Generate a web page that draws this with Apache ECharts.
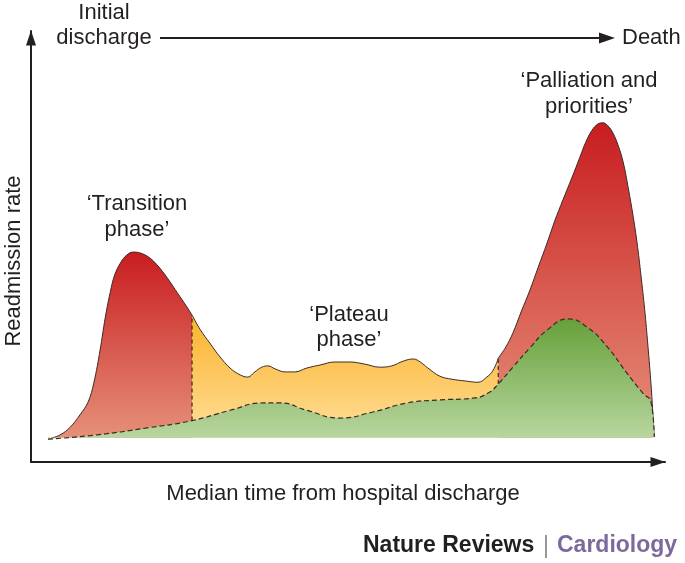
<!DOCTYPE html>
<html>
<head>
<meta charset="utf-8">
<script src="https://cdn.jsdelivr.net/npm/echarts@6/dist/echarts.min.js"></script>
<style>
html,body{margin:0;padding:0;background:#fff;}
#chart{width:685px;height:563px;}
</style>
</head>
<body>
<div id="chart"></div>
<script>
// Time axis: 0 = initial discharge, 100 = death (arbitrary units); rate in arbitrary units 0-100
const transitionPhase = [
  [2.7, 5.3], [4.6, 6.3], [6.2, 8.1], [7.7, 10.9], [9.0, 13.9], [9.9, 18.3], [10.9, 26.0],
  [11.7, 33.4], [12.5, 39.4], [13.2, 43.4], [14.2, 46.4], [15.1, 48.0], [16.1, 48.7],
  [17.2, 48.5], [18.5, 47.6], [19.9, 45.7], [21.5, 42.7], [23.2, 39.0], [24.4, 36.4],
  [25.4, 34.1]
];
const plateauPhase = [
  [25.4, 34.1], [26.7, 30.7], [28.2, 27.6], [29.8, 24.4], [31.4, 21.8], [33.0, 20.2],
  [34.2, 19.7], [35.3, 20.9], [36.4, 22.0], [37.4, 22.3], [38.5, 21.6], [40.1, 20.9],
  [41.6, 20.9], [43.5, 21.8], [45.6, 22.5], [47.9, 23.2], [50.3, 23.2], [52.7, 22.7],
  [55.0, 22.0], [56.9, 22.3], [58.7, 23.4], [60.3, 23.9], [61.4, 23.2], [62.6, 21.8],
  [64.5, 19.9], [66.4, 19.2], [68.5, 18.8], [70.5, 18.5], [71.9, 19.7], [72.9, 21.3],
  [73.7, 24.1]
];
const palliationPhase = [
  [73.7, 24.1], [74.9, 26.7], [76.0, 29.9], [77.3, 34.8], [78.7, 39.9], [80.0, 45.2],
  [81.4, 50.8], [82.6, 55.9], [83.9, 60.8], [85.3, 65.9], [86.6, 70.8], [87.5, 74.2],
  [88.5, 77.0], [89.4, 78.4], [90.2, 78.7], [91.0, 78.0], [91.8, 76.3], [92.6, 73.5],
  [93.4, 69.6], [94.2, 63.6], [95.0, 56.8], [95.6, 50.8], [96.2, 43.4], [96.8, 35.3],
  [97.3, 27.1], [97.8, 17.9], [98.1, 10.9], [98.3, 5.8]
];
const baselineRate = [
  [2.7, 5.3], [10.4, 6.3], [18.3, 7.9], [25.4, 9.6], [31.4, 12.0], [36.6, 13.7],
  [39.3, 13.7], [43.5, 12.0], [48.7, 10.2], [53.9, 11.6], [59.3, 13.7], [64.5, 14.4],
  [69.7, 14.8], [72.1, 16.0], [73.7, 18.1], [76.0, 22.0], [78.7, 26.5], [81.4, 30.6],
  [84.7, 33.2], [87.7, 31.3], [90.9, 26.7], [94.0, 20.6], [96.5, 16.0], [97.8, 13.9],
  [98.3, 5.8]
];
const phaseBoundaries = [
  { x: 25.4, from: 9.6, to: 34.1 },
  { x: 73.7, from: 18.1, to: 24.1 }
];
const areaOrigin = 5.6;

const chart = echarts.init(document.getElementById('chart'), null, { renderer: 'canvas' });
const FONT = '"Liberation Sans", Arial, sans-serif';
const ink = '#231f20';
const outline = '#3b2a22';

function grad(top, bottom) {
  return { type: 'linear', x: 0, y: 0, x2: 0, y2: 1, colorStops: [{ offset: 0, color: top }, { offset: 1, color: bottom }] };
}
function phaseSeries(name, data, top, bottom) {
  return {
    name: name, type: 'line', data: data, symbol: 'none', smooth: 0.4,
    lineStyle: { color: outline, width: 1 },
    areaStyle: { color: grad(top, bottom), opacity: 1, origin: areaOrigin },
    z: 2, silent: true
  };
}

const series = [
  phaseSeries('Transition', transitionPhase, '#c81d20', '#e6917a'),
  phaseSeries('Plateau', plateauPhase, '#fbb22a', '#ffdf9a'),
  phaseSeries('Palliation', palliationPhase, '#c81d20', '#e6917a'),
  {
    name: 'Baseline', type: 'line', data: baselineRate, symbol: 'none', smooth: 0.5,
    lineStyle: { color: outline, width: 1.2, type: [5, 3] },
    areaStyle: { color: grad('#66a03a', '#b9d7a1'), opacity: 1, origin: areaOrigin },
    z: 3, silent: true
  }
];
phaseBoundaries.forEach(function (b, i) {
  series.push({
    name: 'Boundary' + i, type: 'line', data: [[b.x, b.from], [b.x, b.to]], symbol: 'none',
    lineStyle: { color: outline, width: 1.2, type: [4, 3] }, z: 4, silent: true
  });
});

const axisLineStyle = { show: true, onZero: false, symbol: ['none', 'triangle'], symbolSize: [10, 15], symbolOffset: [0, -7], lineStyle: { color: ink, width: 2 } };

const option = {
  animation: false,
  grid: { left: 31, right: 20, top: 31, bottom: 101 },
  xAxis: {
    type: 'value', min: 0, max: 100,
    axisLine: axisLineStyle,
    axisTick: { show: false }, axisLabel: { show: false }, splitLine: { show: false }
  },
  yAxis: {
    type: 'value', min: 0, max: 100,
    axisLine: axisLineStyle,
    axisTick: { show: false }, axisLabel: { show: false }, splitLine: { show: false }
  },
  series: series,
  graphic: [
    { type: 'text', x: 104, y: 13, style: { text: 'Initial', font: '22px ' + FONT, fill: ink, align: 'center', verticalAlign: 'middle' } },
    { type: 'text', x: 104, y: 38, style: { text: 'discharge', font: '22px ' + FONT, fill: ink, align: 'center', verticalAlign: 'middle' } },
    { type: 'line', shape: { x1: 160, y1: 38, x2: 603, y2: 38 }, style: { stroke: ink, lineWidth: 2 } },
    { type: 'polygon', shape: { points: [[599, 32.5], [615, 38], [599, 43.5]] }, style: { fill: ink } },
    { type: 'text', x: 622, y: 38, style: { text: 'Death', font: '22px ' + FONT, fill: ink, align: 'left', verticalAlign: 'middle' } },
    { type: 'text', x: 14, y: 261, rotation: Math.PI / 2, style: { text: 'Readmission rate', font: '22px ' + FONT, fill: ink, align: 'center', verticalAlign: 'middle' } },
    { type: 'text', x: 343, y: 494, style: { text: 'Median time from hospital discharge', font: '22px ' + FONT, fill: ink, align: 'center', verticalAlign: 'middle' } },
    { type: 'text', x: 137, y: 204, style: { text: '\u2018Transition', font: '22px ' + FONT, fill: ink, align: 'center', verticalAlign: 'middle' } },
    { type: 'text', x: 137, y: 230, style: { text: 'phase\u2019', font: '22px ' + FONT, fill: ink, align: 'center', verticalAlign: 'middle' } },
    { type: 'text', x: 349, y: 315, style: { text: '\u2018Plateau', font: '22px ' + FONT, fill: ink, align: 'center', verticalAlign: 'middle' } },
    { type: 'text', x: 349, y: 340, style: { text: 'phase\u2019', font: '22px ' + FONT, fill: ink, align: 'center', verticalAlign: 'middle' } },
    { type: 'text', x: 589, y: 81, style: { text: '\u2018Palliation and', font: '22px ' + FONT, fill: ink, align: 'center', verticalAlign: 'middle' } },
    { type: 'text', x: 589, y: 107, style: { text: 'priorities\u2019', font: '22px ' + FONT, fill: ink, align: 'center', verticalAlign: 'middle' } },
    { type: 'text', x: 363, y: 546, style: { text: 'Nature Reviews', font: 'bold 23px ' + FONT, fill: ink, align: 'left', verticalAlign: 'middle' } },
    { type: 'line', shape: { x1: 546, y1: 535, x2: 546, y2: 558 }, style: { stroke: '#555', lineWidth: 1.2 } },
    { type: 'text', x: 557, y: 546, style: { text: 'Cardiology', font: 'bold 23px ' + FONT, fill: '#7c6a9c', align: 'left', verticalAlign: 'middle' } }
  ]
};
chart.setOption(option);
</script>
</body>
</html>
